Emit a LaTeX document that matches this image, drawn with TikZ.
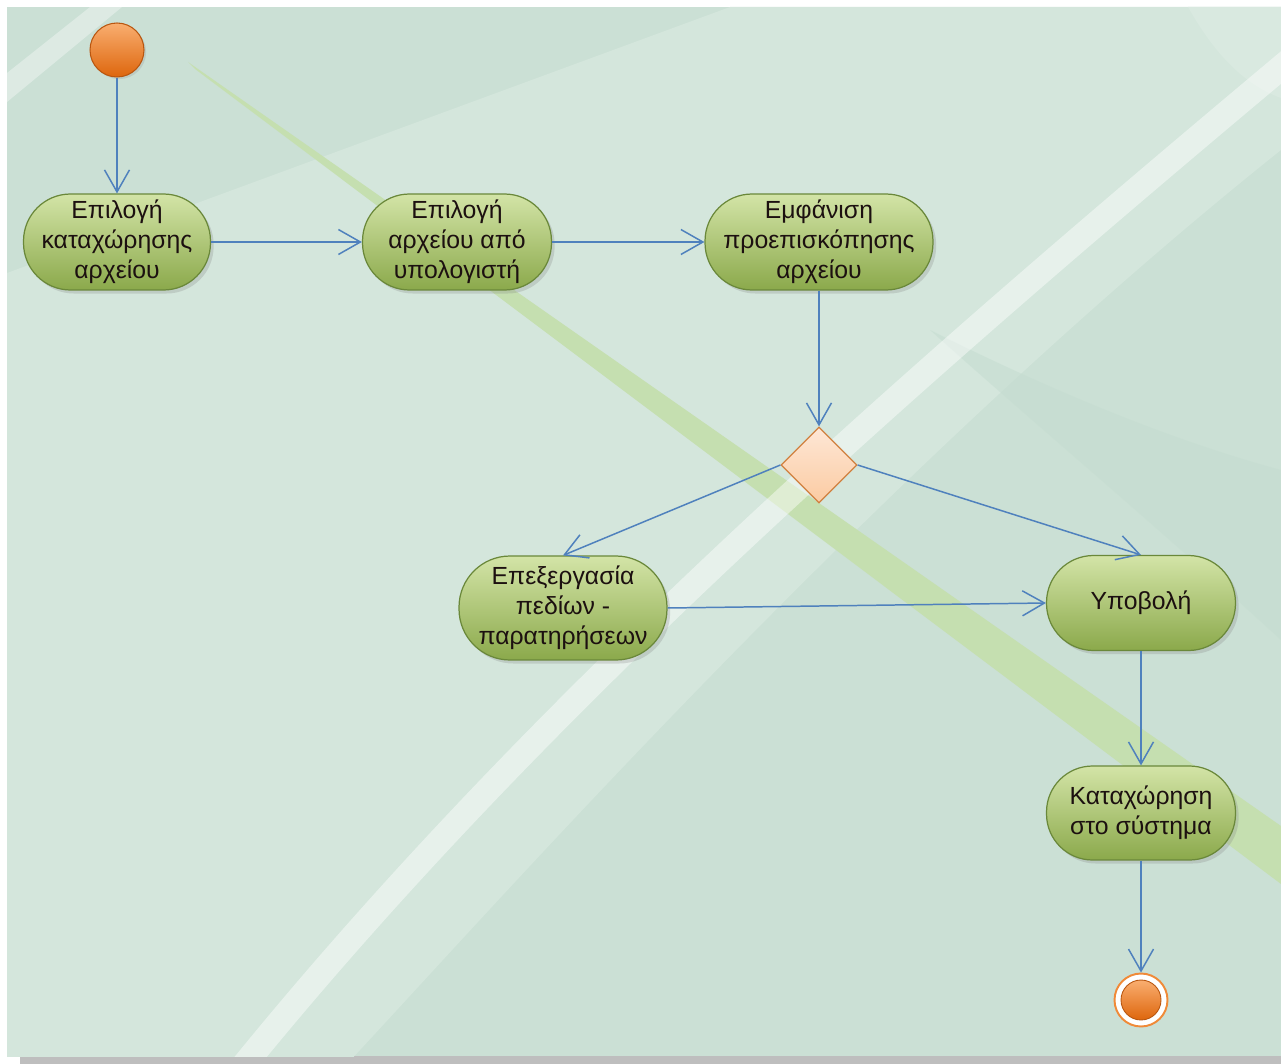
\documentclass[tikz,border=0pt]{standalone}
\usepackage{fontspec}
\setmainfont{Liberation Sans}
\usetikzlibrary{shapes.geometric,shadows,arrows.meta}

% palette
\definecolor{bgbase}{HTML}{CBE0D5}
\definecolor{bglight}{HTML}{D4E6DC}
\definecolor{bgdark}{HTML}{C4DCD0}
\definecolor{bgcorner}{HTML}{D9E9E0}
\definecolor{stripegreen}{HTML}{C5DFB0}
\definecolor{framegray}{HTML}{BEBEBE}
\definecolor{acttop}{HTML}{D3E4A7}
\definecolor{actmid}{HTML}{B2CB78}
\definecolor{actbot}{HTML}{8BA94B}
\definecolor{actborder}{HTML}{6A883A}
\definecolor{acttext}{HTML}{1C1010}
\definecolor{flowblue}{HTML}{4F81BD}
\definecolor{dectop}{HTML}{FEE7D6}
\definecolor{decbot}{HTML}{FBCBA2}
\definecolor{decborder}{HTML}{D0803F}
\definecolor{dottop}{HTML}{F9AE70}
\definecolor{dotbot}{HTML}{DE660D}
\definecolor{dotborder}{HTML}{B9560F}
\definecolor{ringorange}{HTML}{F08A38}

\tikzset{
  activity/.style={rectangle, rounded corners=0.94cm, inner sep=0pt,
    top color=acttop, middle color=actmid, bottom color=actbot,
    draw=actborder, line width=0.7pt, text=acttext, align=center,
    font=\fontsize{14.1}{17.1}\selectfont,
    drop shadow={shadow xshift=1.8pt, shadow yshift=-2pt, opacity=0.25}},
  decision/.style={diamond, aspect=1, inner sep=0pt, minimum size=1.52cm,
    top color=dectop, bottom color=decbot, draw=decborder, line width=0.7pt},
  startdot/.style={circle, inner sep=0pt, minimum size=1.08cm,
    top color=dottop, bottom color=dotbot, draw=dotborder, line width=0.6pt,
    drop shadow={shadow xshift=1.2pt, shadow yshift=-1.2pt, opacity=0.2}},
  endring/.style={circle, inner sep=0pt, minimum size=1.06cm,
    fill=white, draw=ringorange, line width=1.1pt},
  enddot/.style={circle, inner sep=0pt, minimum size=0.8cm,
    top color=dottop, bottom color=dotbot, draw=dotborder, line width=0.5pt},
  flow/.style={draw=flowblue, line width=0.85pt, rounded corners=0pt,
    -{Straight Barb[length=0.44cm, width=0.5cm]}}
}

\begin{document}
\begin{tikzpicture}[x=0.02cm, y=-0.02cm]
\useasboundingbox (0,0) rectangle (1281,1064);

% page and panel frame
\fill[white] (0,0) rectangle (1281,1064);
\fill[framegray] (20,1056) rectangle (1281,1064);

\begin{scope}
  \clip (7,7) rectangle (1281,1056);
  \fill[bgbase] (7,7) rectangle (1281,1056);
  % pale field on the left, bounded by a sweeping curve
  \fill[bglight] (7,273) -- (730,7) -- (1281,7) -- (1281,150)
     .. controls (880,470) and (500,900) .. (347,1064) -- (7,1064) -- cycle;
  % bright corner at the top right
  \fill[bgcorner] (1188,7) .. controls (1215,55) and (1245,85) .. (1281,98) -- (1281,7) -- cycle;
  % deeper wedge on the right
  \fill[bgdark, opacity=0.55] (930,330) .. controls (1050,390) and (1170,440) .. (1281,470)
     -- (1281,640) .. controls (1150,520) and (1030,420) .. cycle;
  % pale strip at the top left
  \fill[white, opacity=0.35] (7,73) -- (90,7) -- (122,7) -- (7,102) -- cycle;
  % green ribbon across the panel
  \fill[stripegreen] (188,62) -- (1281,826) -- (1281,884) -- (195,69) -- cycle;
  % light sweeping band
  \draw[white, opacity=0.45, line width=0.5cm]
     (240,1070) .. controls (540,700) and (920,370) .. (1290,60);
\end{scope}

% activity nodes
\node[startdot] (start) at (117,50) {};
\node[activity, minimum width=3.74cm, minimum height=1.92cm] (choose) at (117,242)
  {Επιλογή\\καταχώρησης\\αρχείου};
\node[activity, minimum width=3.78cm, minimum height=1.92cm] (pick) at (457,242)
  {Επιλογή\\αρχείου από\\υπολογιστή};
\node[activity, minimum width=4.56cm, minimum height=1.92cm] (preview) at (819,242)
  {Εμφάνιση\\προεπισκόπησης\\αρχείου};
\node[decision] (dec) at (819,465) {};
\node[activity, minimum width=4.16cm, minimum height=2.08cm, rounded corners=1.02cm] (edit) at (563,608)
  {Επεξεργασία\\πεδίων -\\παρατηρήσεων};
\node[activity, minimum width=3.78cm, minimum height=1.90cm] (submit) at (1141,603)
  {Υποβολή};
\node[activity, minimum width=3.78cm, minimum height=1.88cm, rounded corners=0.92cm] (store) at (1141,813)
  {Καταχώρηση\\στο σύστημα};
\node[endring] (final) at (1141,1000) {};
\node[enddot] (finaldot) at (final.center) {};

% control flow
\draw[flow] (start) -- (choose);
\draw[flow] (choose) -- (pick);
\draw[flow] (pick) -- (preview);
\draw[flow] (preview) -- (dec.north);
\draw[flow] (dec.west) -- (edit.north);
\draw[flow] (dec.east) -- (submit.north);
\draw[flow] (edit.east) -- (submit.west);
\draw[flow] (submit) -- (store);
\draw[flow] (store) -- (final);
\end{tikzpicture}
\end{document}
